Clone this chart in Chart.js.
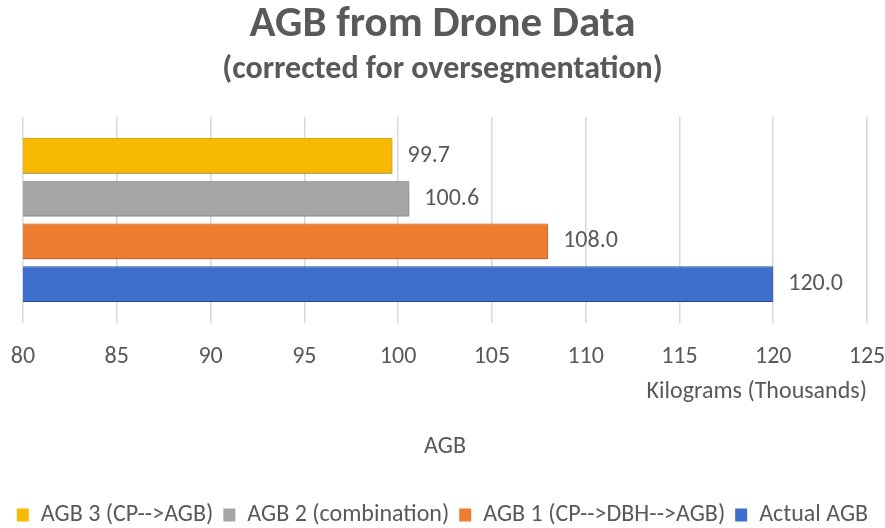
<!DOCTYPE html>
<html>
<head>
<meta charset="utf-8">
<script src="https://cdn.jsdelivr.net/npm/chart.js@4/dist/chart.umd.min.js"></script>
<style>
html,body{margin:0;padding:0;background:#fff;}
#wrap{width:885px;height:528px;}
</style>
</head>
<body>
<div id="wrap"><canvas id="c" width="885" height="528"></canvas></div>
<script>
const categories = ["AGB"];
const seriesNames = ["AGB 3 (CP-->AGB)", "AGB 2 (combination)", "AGB 1 (CP-->DBH-->AGB)", "Actual AGB"];
const agb3 = [99.7];
const agb2 = [100.6];
const agb1 = [108.0];
const actual = [120.0];
const xTicks = [80, 85, 90, 95, 100, 105, 110, 115, 120, 125];

const FONT = "Carlito, 'Open Sans', sans-serif";
const TXT = "#595959";
const palette = [
  ["#FFCC33", "#F7BA00", "#E8AE00"],
  ["#B8B8B8", "#A5A5A5", "#959595"],
  ["#F4904F", "#ED7D31", "#E06E20"],
  ["#5686DA", "#3F6FCC", "#3463C0"]
];

function grad(idx) {
  return function(ctx) {
    const el = ctx.element;
    const chart = ctx.chart;
    if (!el || !chart.chartArea || el.y === undefined) return palette[idx][1];
    const h = el.height || 35;
    const g = chart.ctx.createLinearGradient(0, el.y - h / 2, 0, el.y + h / 2);
    g.addColorStop(0, palette[idx][0]);
    g.addColorStop(0.5, palette[idx][1]);
    g.addColorStop(1, palette[idx][2]);
    return g;
  };
}

const seriesData = [agb3, agb2, agb1, actual];

const valueLabels = {
  id: 'valueLabels',
  afterDatasetsDraw(chart) {
    const ctx = chart.ctx;
    ctx.save();
    ctx.font = "24px " + FONT;
    ctx.fillStyle = TXT;
    ctx.textAlign = 'left';
    ctx.textBaseline = 'middle';
    chart.data.datasets.forEach((ds, i) => {
      const meta = chart.getDatasetMeta(i);
      meta.data.forEach((bar, j) => {
        ctx.fillText(ds.data[j].toFixed(1), bar.x + 15, bar.y);
      });
    });
    ctx.restore();
  }
};

const barShadow = {
  id: 'barShadow',
  beforeDatasetsDraw(chart) {
    const ctx = chart.ctx;
    ctx.save();
    ctx.shadowColor = 'rgba(0,0,0,0.35)';
    ctx.shadowBlur = 4;
    ctx.shadowOffsetX = 1;
    ctx.shadowOffsetY = 2;
  },
  afterDatasetsDraw(chart) {
    chart.ctx.restore();
  }
};

new Chart(document.getElementById('c'), {
  type: 'bar',
  data: {
    labels: categories,
    datasets: seriesNames.map((name, i) => ({
      label: name,
      data: seriesData[i],
      backgroundColor: grad(i),
      borderColor: palette[i][2],
      borderWidth: 1,
      borderSkipped: false,
      categoryPercentage: 0.83,
      barPercentage: 0.84,
      xAxisID: 'x'
    }))
  },
  options: {
    indexAxis: 'y',
    responsive: false,
    animation: false,
    layout: { padding: { left: 0, right: 0, top: -1, bottom: -9 } },
    plugins: {
      title: {
        display: true,
        text: 'AGB from Drone Data',
        color: TXT,
        font: { family: FONT, size: 43, weight: 'bold' },
        padding: { top: 0, bottom: 0 }
      },
      subtitle: {
        display: true,
        text: '(corrected for oversegmentation)',
        color: TXT,
        font: { family: FONT, size: 32, weight: 'bold' },
        padding: { top: 0, bottom: 28 }
      },
      legend: {
        position: 'bottom',
        labels: {
          color: TXT,
          font: { family: FONT, size: 24 },
          boxWidth: 12,
          boxHeight: 13,
          padding: 10,
          generateLabels(chart) {
            return chart.data.datasets.map((ds, i) => ({
              text: ds.label,
              fillStyle: palette[i][1],
              strokeStyle: palette[i][1],
              lineWidth: 0,
              datasetIndex: i,
              fontColor: TXT
            }));
          }
        }
      },
      tooltip: { enabled: false }
    },
    scales: {
      x: {
        type: 'linear',
        position: 'bottom',
        min: 80,
        max: 125,
        afterBuildTicks(scale) { scale.ticks = xTicks.map(v => ({ value: v })); },
        afterFit(scale) { scale.paddingLeft = 23; scale.paddingRight = 18; scale.height = 83; },
        grid: { color: '#D9D9D9', lineWidth: 1.5, drawTicks: false },
        border: { display: false },
        ticks: { color: TXT, font: { family: FONT, size: 24 }, padding: 20 },
        title: {
          display: true,
          text: 'Kilograms (Thousands)',
          align: 'end',
          color: TXT,
          font: { family: FONT, size: 24 },
          padding: { top: 0, bottom: 0 }
        }
      },
      x2: {
        type: 'linear',
        position: 'bottom',
        min: 80,
        max: 125,
        afterFit(scale) { scale.paddingLeft = 23; scale.paddingRight = 18; scale.height = 87; },
        grid: { display: false, drawTicks: false },
        border: { display: false },
        ticks: { display: false },
        title: {
          display: true,
          text: categories[0],
          color: TXT,
          font: { family: FONT, size: 24 },
          padding: { top: 0, bottom: 32 }
        }
      },
      y: {
        display: false
      }
    }
  },
  plugins: [barShadow, valueLabels]
});
</script>
</body>
</html>
